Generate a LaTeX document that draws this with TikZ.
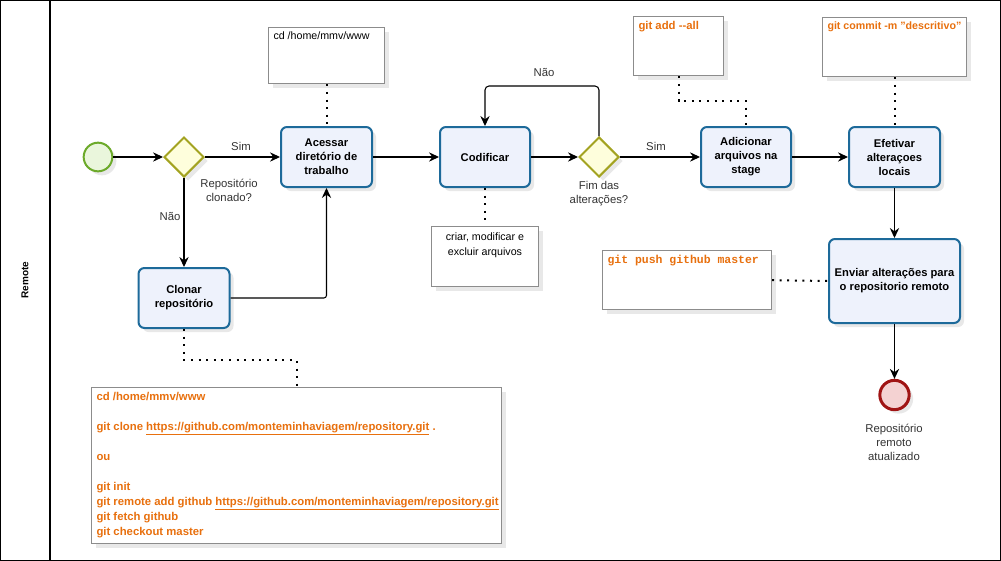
\documentclass[tikz,border=0pt]{standalone}
\usepackage{fontspec}
\setmainfont{Liberation Sans}
\setmonofont{Liberation Mono}
\usetikzlibrary{arrows.meta,shapes.geometric,shadows,calc}
\definecolor{taskblue}{HTML}{1D6A9A}
\definecolor{taskfill}{HTML}{EEF2FC}
\definecolor{gwline}{HTML}{A3A321}
\definecolor{gwfill}{HTML}{FEFEDC}
\definecolor{startline}{HTML}{6CAA2A}
\definecolor{startfill}{HTML}{EAF6DC}
\definecolor{endline}{HTML}{A01414}
\definecolor{endfill}{HTML}{F4D2D2}
\definecolor{codeorange}{HTML}{E8700E}
\definecolor{notegray}{HTML}{8C8C8C}
\definecolor{labelgray}{HTML}{333333}
\begin{document}
\begin{tikzpicture}[x=0.75pt,y=-0.75pt,
  every node/.style={inner sep=0pt},
  shadowed/.style={drop shadow={opacity=0.18, shadow xshift=3pt, shadow yshift=-3pt}},
  task/.style={draw=taskblue, line width=1.5pt, rounded corners=4.5pt, fill=taskfill,
    minimum width=68.25pt, minimum height=45pt, align=center,
    font=\fontsize{8.4}{10.5}\selectfont\bfseries, shadowed},
  gateway/.style={diamond, draw=gwline, line width=1.5pt, fill=gwfill, minimum size=30pt, shadowed},
  startev/.style={circle, draw=startline, line width=1.5pt, fill=startfill, minimum size=21.5pt, shadowed},
  endev/.style={circle, draw=endline, line width=2.25pt, fill=endfill, minimum size=22pt, shadowed},
  note/.style={draw=notegray, line width=0.75pt, fill=white, inner xsep=3.75pt, inner ysep=3.5pt, shadowed},
  lbl/.style={font=\fontsize{8.5}{10.5}\selectfont, text=labelgray, align=center},
  code/.style={font=\fontsize{8.5}{11.25}\selectfont\bfseries, text=codeorange},
  flow/.style={draw, line width=0.8pt, -{Stealth[length=7.5pt, width=7pt, inset=2.5pt]}},
  assoc/.style={draw, line width=1.5pt, dash pattern=on 1.5pt off 4.2pt}
]
\useasboundingbox (0,0) rectangle (1001,561);
% pool / lane
\draw[line width=0.9pt] (0.6,0.6) rectangle (1000.4,560.4);
\draw[line width=0.9pt] (50,0.6) -- (50,560.4);
\node[rotate=90, font=\fontsize{7.5}{9}\selectfont\bfseries] (lane) at (25,280) {Remote};

% events, gateways, tasks
\node[startev] (start) at (98,157) {};
\node[gateway] (g1) at (184,157) {};
\node[task] (acessar) at (326.5,157) {Acessar\\diretório de\\trabalho};
\node[task] (clonar) at (184,298) {Clonar\\repositório};
\node[task, minimum width=67.5pt] (codificar) at (485,157) {Codificar};
\node[gateway] (g2) at (599,157) {};
\node[task, minimum width=67.5pt] (adicionar) at (746,157) {Adicionar\\arquivos na\\stage};
\node[task] (efetivar) at (894.5,157) {Efetivar\\alteraçoes\\locais};
\node[task, minimum width=98.25pt, minimum height=63pt] (enviar) at (894.5,281) {Enviar alterações para\\o repositorio remoto};
\node[endev] (end) at (894.5,395) {};

% notes
\node[note, anchor=north west, font=\fontsize{8}{10}\selectfont] (n1) at (268,27)
  {\begin{minipage}[t][35.25pt][t]{79.5pt}cd /home/mmv/www\end{minipage}};
\node[note, anchor=north west, code] (n2) at (633,16)
  {\begin{minipage}[t][37.5pt][t]{60pt}git add -{}-all\end{minipage}};
\node[note, anchor=north west, code, font=\fontsize{8}{11.25}\selectfont\bfseries] (n3) at (822,17)
  {\begin{minipage}[t][37.5pt][t]{100.5pt}\mbox{git commit -m "descritivo"}\end{minipage}};
\node[note, anchor=north west, font=\fontsize{8}{11.25}\selectfont] (n4) at (431,226)
  {\begin{minipage}[t][38.25pt][t]{72.75pt}\centering\vspace{1pt}criar, modificar e\\excluir arquivos\end{minipage}};
\node[note, anchor=north west, text=codeorange, font=\fontsize{8.6}{11}\selectfont\ttfamily\bfseries] (n5) at (602,250)
  {\begin{minipage}[t][37.5pt][t]{119.25pt}git push github master\end{minipage}};
\node[note, anchor=north west, code] (n6) at (91,387)
  {\begin{minipage}[t][110.25pt][t]{300pt}\raggedright
   \mbox{cd /home/mmv/www}\\
   \mbox{}\\
   \mbox{git clone \underline{https://github.com/monteminhaviagem/repository.git} .}\\
   \mbox{}\\
   \mbox{ou}\\
   \mbox{}\\
   \mbox{git init}\\
   \mbox{git remote add github \underline{https://github.com/monteminhaviagem/repository.git}}\\
   \mbox{git fetch github}\\
   \mbox{git checkout master}\end{minipage}};

% sequence flows
\draw[flow] (start.east) -- (g1.west);
\draw[flow] (g1.east) -- (acessar.west);
\draw[flow] (g1.south) -- (clonar.north);
\draw[flow, rounded corners=2pt] (clonar.east) -| (acessar.south);
\draw[flow] (acessar.east) -- (codificar.west);
\draw[flow] (codificar.east) -- (g2.west);
\coordinate (loop) at (540,86);
\draw[flow, rounded corners=3pt] (g2.north) |- (loop) -| (codificar.north);
\draw[flow] (g2.east) -- (adicionar.west);
\draw[flow] (adicionar.east) -- (efetivar.west);
\draw[flow] (efetivar.south) -- (enviar.north);
\draw[flow] (enviar.south) -- (end.north);

% associations
\draw[assoc] (n1.south) -- (acessar.north);
\draw[assoc] (codificar.south) -- (n4.north);
\coordinate (addmid) at (700,101);
\draw[assoc] (n2.south) |- (addmid) -| (adicionar.north);
\draw[assoc] (n3.south) -- (efetivar.north);
\draw[assoc] (n5.east) -- (enviar.west);
\coordinate (clmid) at (240,360);
\draw[assoc] (clonar.south) |- (clmid) -| (n6.north);

% labels
\node[lbl] (l1) at (241,146) {Sim};
\node[lbl] (l2) at (229,190) {Repositório\\clonado?};
\node[lbl] (l3) at (170,216) {Não};
\node[lbl] (l4) at (544,72) {Não};
\node[lbl] (l5) at (599,194) {Fim das\\alterações?};
\node[lbl] (l6) at (656,146) {Sim};
\node[lbl] (l7) at (894,442) {Repositório\\remoto\\atualizado};
\end{tikzpicture}
\end{document}
